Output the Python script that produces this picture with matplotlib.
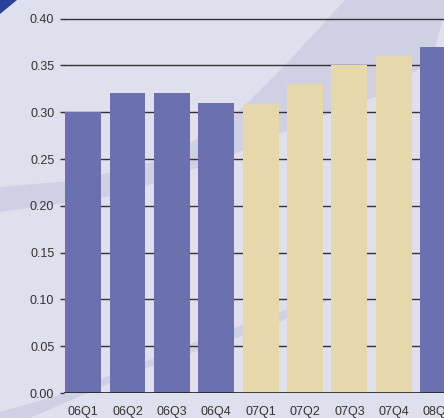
import matplotlib
matplotlib.use("Agg")
import matplotlib.pyplot as plt
from matplotlib.patches import Polygon
import numpy as np

categories = ["06Q1", "06Q2", "06Q3", "06Q4", "07Q1", "07Q2", "07Q3", "07Q4", "08Q1"]
values = [0.30, 0.32, 0.32, 0.31, 0.309, 0.33, 0.35, 0.36, 0.37]
bar_colors = ["#6b70ae"] * 4 + ["#e6d8aa"] * 4 + ["#6b70ae"]
yticks = [0.00, 0.05, 0.10, 0.15, 0.20, 0.25, 0.30, 0.35, 0.40]

W, H = 444, 418
plt.rcParams['font.family'] = ['Liberation Sans', 'DejaVu Sans']
fig = plt.figure(figsize=(W / 100, H / 100), dpi=100)
fig.patch.set_facecolor("#dfdfee")


def px(points):
    return [(x / W, 1 - y / H) for x, y in points]


# decorative swoosh band
upper = [(0, 187), (80, 180), (160, 160), (230, 120), (290, 60), (345, 0)]
lower = [(444, 15), (432, 60), (380, 95), (300, 125), (220, 160), (120, 195), (0, 212)]
band = Polygon(px(upper + [(444, 0)] + lower), closed=True, transform=fig.transFigure,
               facecolor="#d0d0e5", edgecolor="none", zorder=-5)
fig.patches.append(band)
# lower swoosh near bottom
low2 = Polygon(px([(0, 418), (30, 418), (140, 370), (260, 330), (330, 300), (320, 298), (200, 340), (60, 395), (0, 412)]),
               closed=True, transform=fig.transFigure, facecolor="#d0d0e5", edgecolor="none", zorder=-5)
fig.patches.append(low2)
# dark corner
corner = Polygon(px([(0, 0), (17, 0), (0, 14)]), closed=True, transform=fig.transFigure,
                 facecolor="#2a409a", edgecolor="none", zorder=-5)
fig.patches.append(corner)

bottom_px, top_px = 393, 393 - 0.41 * 936
left_px = 64
ax = fig.add_axes([left_px / W, 1 - bottom_px / H, 1 - left_px / W, (bottom_px - top_px) / H])
ax.set_facecolor("none")
ax.set_zorder(1)

x = np.arange(len(categories))
ax.bar(x, values, width=0.81, color=bar_colors, zorder=2)

ax.set_xlim(-0.43, 8.13)
ax.set_ylim(0, 0.41)
ax.set_yticks(yticks)
ax.set_yticklabels([f"{v:.2f}" for v in yticks])
ax.set_xticks(x)
ax.set_xticklabels(categories)

ax.set_axisbelow(True)
ax.yaxis.grid(True, color="#333333", linewidth=1.0)
ax.xaxis.grid(False)
for s in ax.spines.values():
    s.set_visible(False)
ax.axhline(0, color="#222222", linewidth=1.2, zorder=3)

ax.tick_params(axis="y", length=3, width=1.0, color="#333333", pad=4, labelsize=9, labelcolor="#333333")
ax.tick_params(axis="x", length=0, pad=9, labelsize=9, labelcolor="#333333")

fig.savefig("out.png", dpi=100, facecolor=fig.get_facecolor())
